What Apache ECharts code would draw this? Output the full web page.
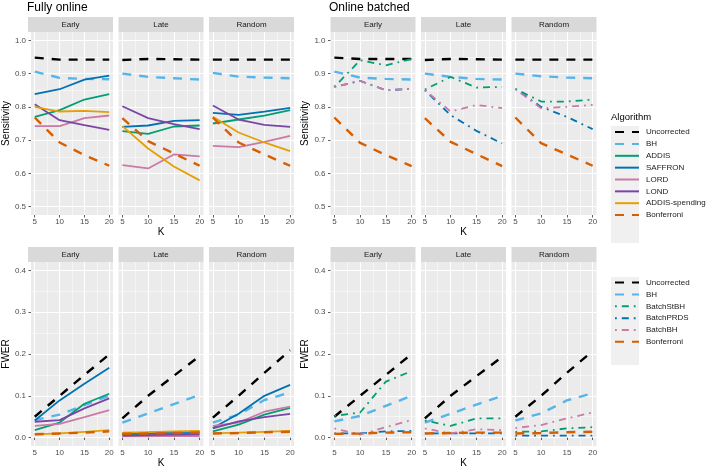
<!DOCTYPE html>
<html>
<head>
<meta charset="utf-8">
<script src="https://cdn.jsdelivr.net/npm/echarts@6/dist/echarts.min.js"></script>
<style>html,body{margin:0;padding:0;background:#fff}#c{width:709px;height:469px}</style>
</head>
<body>
<div id="c"></div>
<script>
// ---------- data ----------
const K = [5, 10, 15, 20];
const facets = ['Early', 'Late', 'Random'];
const algosOnline = ['Uncorrected', 'BH', 'ADDIS', 'SAFFRON', 'LORD', 'LOND', 'ADDIS-spending', 'Bonferroni'];
const algosBatch = ['Uncorrected', 'BH', 'BatchStBH', 'BatchPRDS', 'BatchBH', 'Bonferroni'];
const xTicks = [5, 10, 15, 20];
const xMinorTicks = [7.5, 12.5, 17.5];
const sensTicks = [0.5, 0.6, 0.7, 0.8, 0.9, 1.0];
const sensMinorTicks = [0.55, 0.65, 0.75, 0.85, 0.95];
const fwerTicks = [0, 0.1, 0.2, 0.3, 0.4];
const fwerMinorTicks = [0.05, 0.15, 0.25, 0.35];

// Sensitivity, fully online (rows in algosOnline order)
const sensOnlineEarly = [
  [0.948, 0.942, 0.942, 0.942],
  [0.906, 0.887, 0.884, 0.883],
  [0.770, 0.790, 0.822, 0.838],
  [0.838, 0.853, 0.882, 0.894],
  [0.742, 0.742, 0.766, 0.774],
  [0.808, 0.760, 0.745, 0.731],
  [0.800, 0.786, 0.788, 0.784],
  [0.768, 0.693, 0.655, 0.623]
];
const sensOnlineLate = [
  [0.941, 0.944, 0.943, 0.942],
  [0.900, 0.890, 0.886, 0.882],
  [0.727, 0.719, 0.741, 0.744],
  [0.740, 0.744, 0.758, 0.760],
  [0.625, 0.615, 0.657, 0.651],
  [0.802, 0.766, 0.748, 0.733],
  [0.742, 0.675, 0.621, 0.579],
  [0.766, 0.697, 0.660, 0.623]
];
const sensOnlineRandom = [
  [0.942, 0.942, 0.942, 0.942],
  [0.902, 0.891, 0.888, 0.886],
  [0.750, 0.762, 0.774, 0.790],
  [0.782, 0.776, 0.786, 0.797],
  [0.683, 0.679, 0.695, 0.713],
  [0.804, 0.762, 0.746, 0.740],
  [0.770, 0.723, 0.693, 0.667],
  [0.768, 0.693, 0.657, 0.623]
];
// Sensitivity, online batched (rows in algosBatch order)
const sensBatchEarly = [
  [0.948, 0.944, 0.944, 0.944],
  [0.906, 0.888, 0.884, 0.882],
  [0.860, 0.940, 0.925, 0.944],
  [0.860, 0.878, 0.850, 0.854],
  [0.860, 0.878, 0.850, 0.854],
  [0.768, 0.692, 0.655, 0.622]
];
const sensBatchLate = [
  [0.941, 0.944, 0.943, 0.942],
  [0.900, 0.890, 0.884, 0.882],
  [0.852, 0.890, 0.858, 0.860],
  [0.850, 0.775, 0.728, 0.690],
  [0.850, 0.786, 0.806, 0.796],
  [0.766, 0.695, 0.658, 0.622]
];
const sensBatchRandom = [
  [0.942, 0.942, 0.942, 0.942],
  [0.900, 0.892, 0.888, 0.886],
  [0.854, 0.816, 0.816, 0.822],
  [0.854, 0.800, 0.770, 0.733],
  [0.854, 0.796, 0.800, 0.806],
  [0.768, 0.691, 0.657, 0.623]
];
// FWER, fully online
const fwerOnlineEarly = [
  [0.050, 0.100, 0.150, 0.199],
  [0.042, 0.055, 0.078, 0.100],
  [0.018, 0.036, 0.081, 0.105],
  [0.041, 0.089, 0.129, 0.167],
  [0.028, 0.033, 0.049, 0.066],
  [0.038, 0.042, 0.070, 0.094],
  [0.008, 0.010, 0.014, 0.018],
  [0.008, 0.010, 0.012, 0.015]
];
const fwerOnlineLate = [
  [0.046, 0.100, 0.148, 0.195],
  [0.036, 0.058, 0.080, 0.102],
  [0.008, 0.009, 0.010, 0.010],
  [0.010, 0.012, 0.014, 0.014],
  [0.003, 0.003, 0.004, 0.003],
  [0.005, 0.006, 0.007, 0.007],
  [0.012, 0.013, 0.015, 0.016],
  [0.009, 0.010, 0.011, 0.012]
];
const fwerOnlineRandom = [
  [0.048, 0.100, 0.155, 0.209],
  [0.036, 0.055, 0.090, 0.108],
  [0.015, 0.031, 0.055, 0.071],
  [0.023, 0.057, 0.100, 0.126],
  [0.028, 0.036, 0.062, 0.074],
  [0.022, 0.039, 0.049, 0.057],
  [0.010, 0.012, 0.014, 0.016],
  [0.010, 0.011, 0.013, 0.014]
];
// FWER, online batched
const fwerBatchEarly = [
  [0.050, 0.100, 0.150, 0.200],
  [0.039, 0.052, 0.076, 0.100],
  [0.052, 0.060, 0.134, 0.159],
  [0.010, 0.010, 0.015, 0.016],
  [0.022, 0.007, 0.025, 0.042],
  [0.009, 0.010, 0.012, 0.013]
];
const fwerBatchLate = [
  [0.046, 0.100, 0.147, 0.193],
  [0.036, 0.057, 0.079, 0.100],
  [0.041, 0.028, 0.046, 0.046],
  [0.010, 0.010, 0.010, 0.010],
  [0.022, 0.010, 0.020, 0.018],
  [0.010, 0.011, 0.012, 0.012]
];
const fwerBatchRandom = [
  [0.050, 0.100, 0.155, 0.207],
  [0.041, 0.058, 0.089, 0.106],
  [0.014, 0.015, 0.022, 0.025],
  [0.005, 0.005, 0.005, 0.005],
  [0.023, 0.030, 0.046, 0.060],
  [0.010, 0.011, 0.013, 0.014]
];

// ---------- styles ----------
const DASH = [9, 8];
const DOTDASH = [1.8, 5, 7, 5];
const algoStyle = {
  'Uncorrected':    { color: '#000000', width: 2.4, type: DASH },
  'BH':             { color: '#56B4E9', width: 2.4, type: DASH },
  'ADDIS':          { color: '#009E73', width: 1.8, type: 'solid' },
  'SAFFRON':        { color: '#0072B2', width: 1.8, type: 'solid' },
  'LORD':           { color: '#CC79A7', width: 1.8, type: 'solid' },
  'LOND':           { color: '#7B45A6', width: 1.8, type: 'solid' },
  'ADDIS-spending': { color: '#E69F00', width: 1.8, type: 'solid' },
  'Bonferroni':     { color: '#D55E00', width: 2.4, type: DASH },
  'BatchStBH':      { color: '#009E73', width: 1.8, type: DOTDASH },
  'BatchPRDS':      { color: '#0072B2', width: 1.8, type: DOTDASH },
  'BatchBH':        { color: '#CC79A7', width: 1.8, type: DOTDASH }
};

// ---------- layout ----------
const colLefts = [28, 118.5, 209, 330.5, 421, 511.5];
const panelW = 85;
const rows = [{ top: 32, height: 183 }, { top: 262, height: 184 }];
const stripH = 15;

const panels = [
  { row: 0, col: 0, data: sensOnlineEarly, algos: algosOnline, facet: 0 },
  { row: 0, col: 1, data: sensOnlineLate, algos: algosOnline, facet: 1 },
  { row: 0, col: 2, data: sensOnlineRandom, algos: algosOnline, facet: 2 },
  { row: 0, col: 3, data: sensBatchEarly, algos: algosBatch, facet: 0 },
  { row: 0, col: 4, data: sensBatchLate, algos: algosBatch, facet: 1 },
  { row: 0, col: 5, data: sensBatchRandom, algos: algosBatch, facet: 2 },
  { row: 1, col: 0, data: fwerOnlineEarly, algos: algosOnline, facet: 0 },
  { row: 1, col: 1, data: fwerOnlineLate, algos: algosOnline, facet: 1 },
  { row: 1, col: 2, data: fwerOnlineRandom, algos: algosOnline, facet: 2 },
  { row: 1, col: 3, data: fwerBatchEarly, algos: algosBatch, facet: 0 },
  { row: 1, col: 4, data: fwerBatchLate, algos: algosBatch, facet: 1 },
  { row: 1, col: 5, data: fwerBatchRandom, algos: algosBatch, facet: 2 }
];

const grid = [], xAxis = [], yAxis = [], series = [], graphic = [];
const tickColor = '#333333', labelColor = '#4D4D4D';

panels.forEach((p, i) => {
  const r = rows[p.row];
  const left = colLefts[p.col];
  grid.push({ left: left, top: r.top, width: panelW, height: r.height, show: true,
    backgroundColor: '#EBEBEB', borderWidth: 0, containLabel: false });
  const isLeft = p.col === 0 || p.col === 3;
  const isMid = p.col === 1 || p.col === 4;
  const yMin = p.row === 0 ? 0.475 : -0.02;
  const yMax = p.row === 0 ? 1.025 : 0.42;
  const yMaj = p.row === 0 ? sensTicks : fwerTicks;
  const yMin2 = p.row === 0 ? sensMinorTicks : fwerMinorTicks;
  // major x
  xAxis.push({ type: 'value', gridIndex: i, min: 4.25, max: 20.75,
    name: isMid ? 'K' : '', nameLocation: 'middle', nameGap: 11,
    nameTextStyle: { fontSize: 10, color: '#000' },
    axisLine: { show: false },
    axisTick: { show: true, length: 2.5, customValues: xTicks, lineStyle: { color: tickColor, width: 0.8 } },
    axisLabel: { show: true, customValues: xTicks, margin: 3, fontSize: 8, color: labelColor },
    splitLine: { show: true, lineStyle: { color: '#FFFFFF', width: 1 } } });
  // minor x
  xAxis.push({ type: 'value', gridIndex: i, min: 4.25, max: 20.75,
    axisLine: { show: false },
    axisTick: { show: false, customValues: xMinorTicks },
    axisLabel: { show: false },
    splitLine: { show: true, lineStyle: { color: '#FFFFFF', width: 0.5 } } });
  // major y
  yAxis.push({ type: 'value', gridIndex: i, min: yMin, max: yMax,
    name: isLeft ? (p.row === 0 ? 'Sensitivity' : 'FWER') : '',
    nameLocation: 'middle', nameGap: 17, nameTextStyle: { fontSize: 10, color: '#000' },
    axisLine: { show: false },
    axisTick: { show: isLeft, length: 2.5, customValues: yMaj, lineStyle: { color: tickColor, width: 0.8 } },
    axisLabel: { show: isLeft, customValues: yMaj, margin: 5, fontSize: 8, color: labelColor,
      formatter: v => Number(v).toFixed(1) },
    splitLine: { show: true, lineStyle: { color: '#FFFFFF', width: 1 } } });
  // minor y
  yAxis.push({ type: 'value', gridIndex: i, min: yMin, max: yMax,
    axisLine: { show: false },
    axisTick: { show: false, customValues: yMin2 },
    axisLabel: { show: false },
    splitLine: { show: true, lineStyle: { color: '#FFFFFF', width: 0.5 } } });

  p.algos.forEach((a, j) => {
    const st = algoStyle[a];
    series.push({ type: 'line', name: a, xAxisIndex: 2 * i, yAxisIndex: 2 * i,
      data: K.map((k, t) => [k, p.data[j][t]]),
      symbol: 'none', showSymbol: false, silent: true, animation: false,
      color: st.color,
      lineStyle: { color: st.color, width: st.width, type: st.type, cap: 'butt' } });
  });

  // facet strip
  graphic.push({ type: 'rect', silent: true,
    shape: { x: left, y: r.top - stripH, width: panelW, height: stripH },
    style: { fill: '#D9D9D9' } });
  graphic.push({ type: 'text', silent: true, x: left + panelW / 2, y: r.top - stripH / 2,
    style: { text: facets[p.facet], fill: '#1A1A1A', fontSize: 8, align: 'center', verticalAlign: 'middle',
      fontFamily: 'Liberation Sans, Arial, sans-serif' } });
});

// legend key backgrounds
graphic.push({ type: 'rect', silent: true, z: -1, shape: { x: 611, y: 126, width: 28, height: 117 }, style: { fill: '#F0F0F0' } });
graphic.push({ type: 'rect', silent: true, z: -1, shape: { x: 611, y: 277, width: 28, height: 88 }, style: { fill: '#F0F0F0' } });

const legendCommon = {
  orient: 'vertical', left: 614, padding: 0,
  itemWidth: 24, itemHeight: 14, itemGap: 0.65, selectedMode: false,
  itemStyle: { opacity: 0, color: 'rgba(0,0,0,0)', borderWidth: 0 },
  textStyle: { fontSize: 8, color: '#1A1A1A', padding: [0, 0, 0, 2] }
};

const option = {
  backgroundColor: '#FFFFFF',
  animation: false,
  textStyle: { fontFamily: 'Liberation Sans, Arial, sans-serif' },
  title: [
    { text: 'Fully online', left: 27, top: 1.5, padding: 0, textStyle: { fontSize: 12, fontWeight: 'normal', color: '#000' } },
    { text: 'Online batched', left: 329, top: 1.5, padding: 0, textStyle: { fontSize: 12, fontWeight: 'normal', color: '#000' } },
    { text: 'Algorithm', left: 611, top: 112, padding: 0, textStyle: { fontSize: 9.5, fontWeight: 'normal', color: '#000' } }
  ],
  legend: [
    Object.assign({}, legendCommon, { data: algosOnline, top: 126.5 }),
    Object.assign({}, legendCommon, { data: algosBatch, top: 277 })
  ],
  grid: grid,
  xAxis: xAxis,
  yAxis: yAxis,
  series: series,
  graphic: graphic
};

const chart = echarts.init(document.getElementById('c'), null, { renderer: 'canvas' });
chart.setOption(option);
</script>
</body>
</html>
